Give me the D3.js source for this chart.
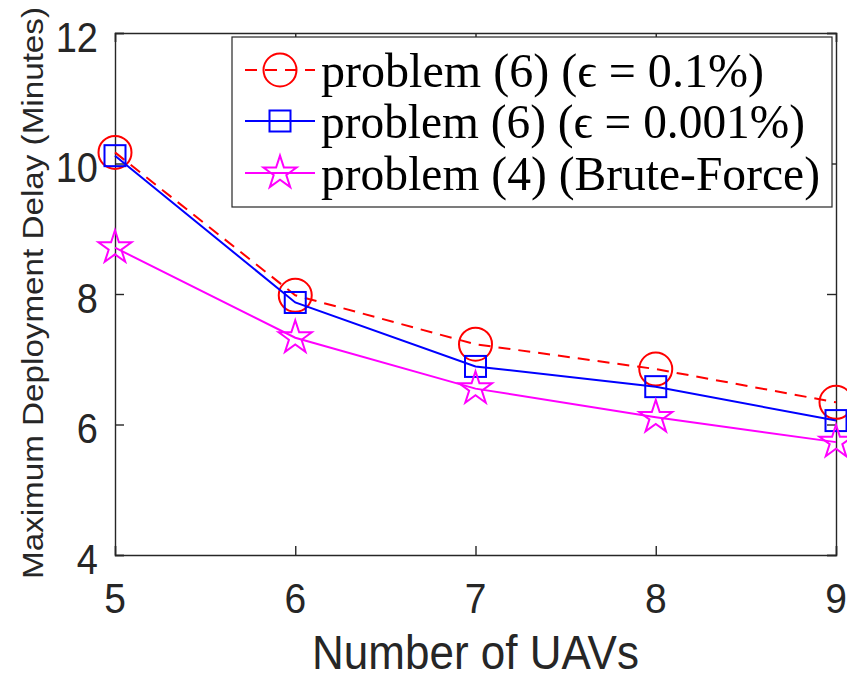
<!DOCTYPE html>
<html><head><meta charset="utf-8">
<script src="https://cdn.jsdelivr.net/npm/d3@7"></script>
<style>body{margin:0;background:#fff}svg{display:block}</style>
</head><body>
<script>
const uavs = [5, 6, 7, 8, 9];
const eps01 = [10.17, 7.98, 7.23, 6.85, 6.34];
const eps0001 = [10.12, 7.87, 6.89, 6.58, 6.06];
const bruteForce = [8.71, 7.33, 6.55, 6.11, 5.73];
const xTicks = [5, 6, 7, 8, 9];
const yTicks = [4, 6, 8, 10, 12];
const seriesNames = ["problem (6) (\u03F5 = 0.1%)", "problem (6) (\u03F5 = 0.001%)", "problem (4) (Brute-Force)"];

const W = 847, H = 673;
const m = {l: 115, r: 836, t: 33, b: 555};
const svg = d3.select("body").append("svg").attr("width", W).attr("height", H);
const x = d3.scaleLinear().domain([5, 9]).range([m.l, m.r]);
const y = d3.scaleLinear().domain([4, 12]).range([m.b, m.t]);
const axisColor = "#262626";
const font = "Liberation Sans, Arial, sans-serif";
const vs = 1.1; // vertical stretch of text glyphs

// axes (ticks inside, box on)
const gx = svg.append("g").attr("transform", `translate(0,${m.b})`)
  .call(d3.axisBottom(x).tickValues(xTicks).tickSize(-9).tickFormat(""));
const gxt = svg.append("g").attr("transform", `translate(0,${m.t})`)
  .call(d3.axisTop(x).tickValues(xTicks).tickSize(-9).tickFormat(""));
const gy = svg.append("g").attr("transform", `translate(${m.l},0)`)
  .call(d3.axisLeft(y).tickValues(yTicks).tickSize(-9).tickFormat(""));
const gyr = svg.append("g").attr("transform", `translate(${m.r},0)`)
  .call(d3.axisRight(y).tickValues(yTicks).tickSize(-9).tickFormat(""));
[gx, gxt, gy, gyr].forEach(g => {
  g.select(".domain").attr("stroke", axisColor).attr("stroke-width", 1.4);
  g.selectAll(".tick line").attr("stroke", axisColor).attr("stroke-width", 1.4);
});

// tick labels
svg.append("g").selectAll("text").data(xTicks).join("text")
  .attr("transform", d => `translate(${x(d)},613) scale(1,${vs})`)
  .attr("text-anchor", "middle").attr("font-family", font).attr("font-size", 39)
  .attr("fill", axisColor).text(d => d);
svg.append("g").selectAll("text").data(yTicks).join("text")
  .attr("transform", d => `translate(98,${y(d) + 18.5}) scale(1,${vs})`)
  .attr("text-anchor", "end").attr("font-family", font).attr("font-size", 38)
  .attr("fill", axisColor).text(d => d);

// axis titles
svg.append("text").attr("transform", `translate(${(m.l + m.r) / 2},669) scale(1,${vs})`).attr("text-anchor", "middle")
  .attr("font-family", font).attr("font-size", 44).attr("fill", axisColor).text("Number of UAVs");
svg.append("text").attr("transform", `translate(43,${293}) rotate(-90)`).attr("text-anchor", "middle")
  .attr("font-family", font).attr("font-size", 29).attr("fill", axisColor)
  .attr("textLength", 572).attr("lengthAdjust", "spacingAndGlyphs")
  .text("Maximum Deployment Delay (Minutes)");

const star = d3.symbol().type(d3.symbolStar).size(340);
function drawMarker(g, type, color, cx, cy) {
  if (type === "circle") g.append("circle").attr("cx", cx).attr("cy", cy).attr("r", 16.5)
    .attr("fill", "none").attr("stroke", color).attr("stroke-width", 2);
  else if (type === "square") g.append("rect").attr("x", cx - 10.5).attr("y", cy - 10.5).attr("width", 21).attr("height", 21)
    .attr("fill", "none").attr("stroke", color).attr("stroke-width", 2);
  else g.append("path").attr("d", star()).attr("transform", `translate(${cx},${cy})`)
    .attr("fill", "none").attr("stroke", color).attr("stroke-width", 2);
}

const series = [
  {vals: eps01, color: "#ff0000", dash: "12,8", marker: "circle"},
  {vals: eps0001, color: "#0000ff", dash: null, marker: "square"},
  {vals: bruteForce, color: "#ff00ff", dash: null, marker: "star"}
];
const line = d3.line().x((d, i) => x(uavs[i])).y(d => y(d));
series.forEach(s => {
  const g = svg.append("g");
  g.append("path").datum(s.vals).attr("d", line).attr("fill", "none")
    .attr("stroke", s.color).attr("stroke-width", 2).attr("stroke-dasharray", s.dash);
  s.vals.forEach((v, i) => drawMarker(g, s.marker, s.color, x(uavs[i]), y(v)));
});

// legend
const lg = svg.append("g");
lg.append("rect").attr("x", 232).attr("y", 37).attr("width", 600).attr("height", 170)
  .attr("fill", "#fff").attr("stroke", axisColor).attr("stroke-width", 1.2);
const rowsY = [70, 121, 173];
const textLens = [443, 484, 499];
series.forEach((s, i) => {
  const yy = rowsY[i];
  lg.append("line").attr("x1", 245).attr("x2", 315).attr("y1", yy).attr("y2", yy)
    .attr("stroke", s.color).attr("stroke-width", 2).attr("stroke-dasharray", s.dash);
  drawMarker(lg, s.marker, s.color, 280, yy);
  lg.append("text").attr("transform", `translate(321,${yy + 17}) scale(1,1.12)`)
    .attr("font-family", "Liberation Serif, 'DejaVu Serif', serif")
    .attr("font-size", 44).attr("fill", "#000")
    .attr("textLength", textLens[i]).attr("lengthAdjust", "spacingAndGlyphs")
    .text(seriesNames[i]);
});
</script>
</body></html>
